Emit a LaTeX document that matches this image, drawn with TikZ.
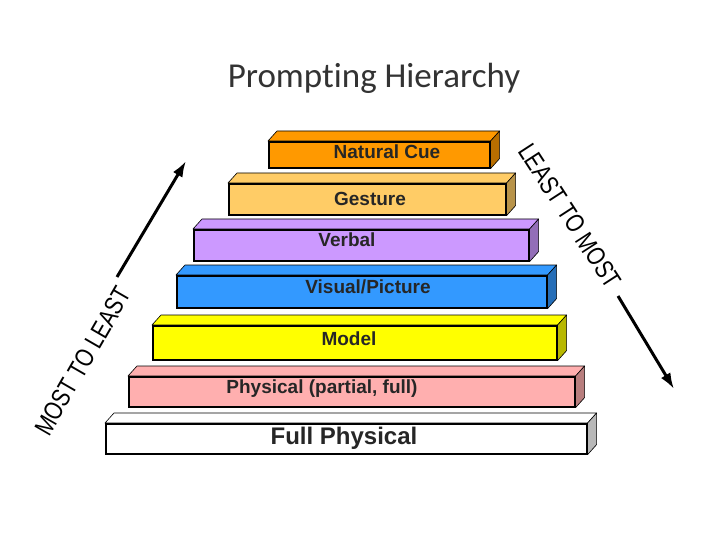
\documentclass[tikz,border=0pt]{standalone}
\usepackage{fontspec}
\setmainfont{Liberation Sans}
\newfontfamily\titlefont[Ligatures=NoCommon]{Carlito}
\usetikzlibrary{arrows.meta,positioning,backgrounds}
\definecolor{cueorange}{RGB}{255,153,0}
\definecolor{gestorange}{RGB}{255,204,102}
\definecolor{verbpurple}{RGB}{204,153,255}
\definecolor{visblue}{RGB}{51,153,255}
\definecolor{modyellow}{RGB}{255,255,0}
\definecolor{physpink}{RGB}{255,175,175}
\definecolor{fullwhite}{RGB}{255,255,255}

\begin{document}
\begin{tikzpicture}[x=1pt,y=-1pt,
    slab/.style={draw=black, line width=1.6pt, inner sep=0pt, anchor=north west},
    face/.style={draw=black, line width=0.6pt, line join=round},
    slabtext/.style={font=\bfseries\fontsize{19}{19}\selectfont, text=black!85, inner sep=0pt, anchor=base},
    sidetext/.style={font=\fontsize{26}{26}\selectfont, inner sep=0pt},
    bigarrow/.style={-{Latex[length=16pt,width=11pt]}, line width=3pt}]
                \def\dx{9}
                \def\dy{10}
                \useasboundingbox (0,0) rectangle (720,540);
                %Title
                \node[font=\titlefont\fontsize{35}{35}\selectfont, text=black!80, anchor=base] (title) at (374,88) {Prompting Hierarchy};
                %Front faces
                \node[slab, fill=cueorange, minimum width=221pt, minimum height=26pt] (cue) at (268,141) {};
                \node[slab, fill=gestorange, minimum width=277pt, minimum height=31pt] (gest) at (228,183) {};
                \node[slab, fill=verbpurple, minimum width=335pt, minimum height=31pt] (verb) at (193,229) {};
                \node[slab, fill=visblue, minimum width=370pt, minimum height=32pt] (vis) at (176,275) {};
                \node[slab, fill=modyellow, minimum width=404pt, minimum height=34pt] (mod) at (152,325) {};
                \node[slab, fill=physpink, minimum width=446pt, minimum height=30pt] (phys) at (128,376) {};
                \node[slab, fill=fullwhite, minimum width=481pt, minimum height=30pt] (full) at (105,423) {};
                %Top and side faces
                \begin{pgfonlayer}{background}
                \foreach \n/\c in {cue/cueorange, gest/gestorange, verb/verbpurple, vis/visblue,
                                   mod/modyellow, phys/physpink, full/fullwhite} {
                    \filldraw[face, fill=\c] (\n.north west) -- ++(\dx,-\dy)
                        -- ([shift={(\dx pt,\dy pt)}]\n.north east) -- (\n.north east) -- cycle;
                    \filldraw[face, fill=\c!72!black] (\n.north east)
                        -- ([shift={(\dx pt,\dy pt)}]\n.north east)
                        -- ([shift={(\dx pt,\dy pt)}]\n.south east) -- (\n.south east) -- cycle;
                }
                \end{pgfonlayer}
                %Labels
                \node[slabtext] (cuelbl) at (387,159) {Natural Cue};
                \node[slabtext] (gestlbl) at (370,206) {Gesture};
                \node[slabtext] (verblbl) at (347,247) {Verbal};
                \node[slabtext] (vislbl) at (368,293) {Visual/Picture};
                \node[slabtext] (modlbl) at (349,345) {Model};
                \node[slabtext] (physlbl) at (322,393) {Physical (partial, full)};
                \node[slabtext, font=\bfseries\fontsize{24}{24}\selectfont] (fulllbl) at (344,444) {Full Physical};
                %Arrows
                \coordinate (upstart) at (117,277);
                \coordinate (upend) at (186,161);
                \coordinate (downstart) at (618,296);
                \coordinate (downend) at (674,389);
                \draw[bigarrow] (upstart) -- (upend);
                \draw[bigarrow] (downstart) -- (downend);
                \node[sidetext, rotate=60] (mostleast) at (83,361) {\scalebox{0.8}[1]{MOST TO LEAST}};
                \node[sidetext, rotate=-57] (leastmost) at (570,216) {\scalebox{0.8}[1]{LEAST TO MOST}};
            \end{tikzpicture}
\end{document}
